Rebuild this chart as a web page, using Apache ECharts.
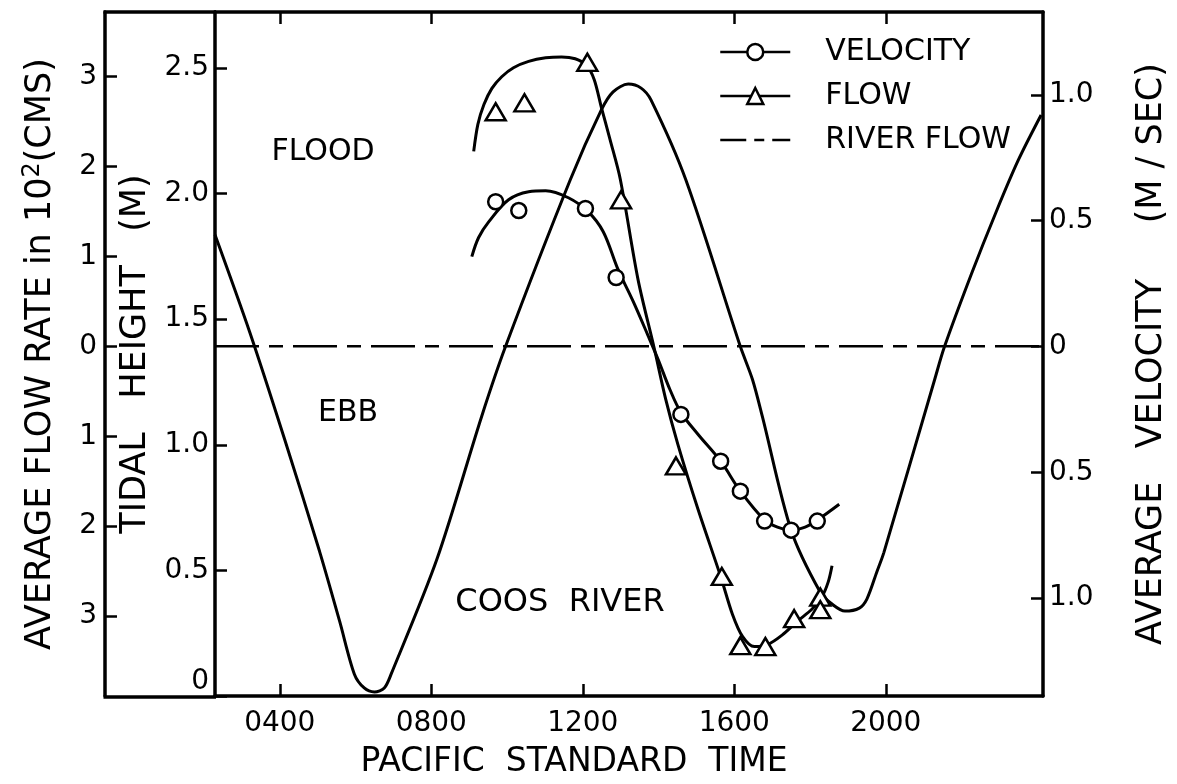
<!DOCTYPE html>
<html>
<head>
<meta charset="utf-8">
<script src="https://cdn.jsdelivr.net/npm/echarts@6/dist/echarts.min.js"></script>
<style>
  html, body { margin: 0; padding: 0; background: #fff; }
  #chart { width: 1177px; height: 784px; }
</style>
</head>
<body>
<div id="chart"></div>
<script>
// ---------- Data ----------
// Time in hours (Pacific Standard Time)
const hourTicks = [4, 8, 12, 16, 20];

// Tidal height curve (m)
const tideTime   = [2.29, 3.21, 4.13, 5.05, 5.58, 5.97, 6.23, 6.50, 6.76, 6.94, 8.15, 9.33, 9.96, 11.67, 12.49, 12.80, 13.20, 13.54, 13.80, 14.72, 16.16, 16.48, 16.74, 17.50, 18.27, 18.58, 18.92, 19.30, 19.50, 19.76, 19.95, 21.29, 21.55, 22.26, 22.92, 23.50, 24.10];
const tideHeight = [1.836, 1.447, 1.021, 0.576, 0.298, 0.087, 0.032, 0.016, 0.032, 0.087, 0.545, 1.113, 1.391, 2.055, 2.333, 2.405, 2.436, 2.42, 2.373, 2.055, 1.391, 1.26, 1.113, 0.660, 0.413, 0.366, 0.338, 0.350, 0.386, 0.493, 0.572, 1.26, 1.391, 1.680, 1.930, 2.134, 2.313];

// Average velocity fitted curve (m/s, flood positive)
const velCurveTime  = [9.07, 9.25, 9.52, 10.04, 10.57, 11.02, 11.62, 12.14, 12.54, 12.93, 13.33, 13.72, 13.99, 14.30, 14.59, 15.04, 15.64, 16.16, 16.80, 17.14, 17.50, 17.87, 18.19, 18.77];
const velCurveValue = [0.357, 0.433, 0.496, 0.583, 0.615, 0.619, 0.591, 0.536, 0.456, 0.306, 0.179, 0.044, -0.052, -0.171, -0.262, -0.349, -0.456, -0.575, -0.690, -0.718, -0.730, -0.718, -0.690, -0.627];
// Average velocity observations
const velObsTime  = [9.70, 10.31, 12.07, 12.88, 14.59, 15.64, 16.16, 16.80, 17.50, 18.19];
const velObsValue = [0.575, 0.540, 0.548, 0.274, -0.270, -0.456, -0.575, -0.694, -0.730, -0.694];

// Average flow rate fitted curve (10^2 cms, flood positive)
const flowCurveTime  = [9.12, 9.23, 9.39, 9.60, 9.86, 10.17, 10.57, 11.02, 11.44, 11.80, 12.09, 12.30, 12.49, 12.72, 12.99, 13.46, 13.88, 14.19, 14.51, 15.04, 15.64, 15.95, 16.22, 16.53, 16.87, 17.27, 17.66, 18.06, 18.32, 18.48, 18.58];
const flowCurveValue = [2.17, 2.47, 2.69, 2.87, 3.00, 3.10, 3.17, 3.21, 3.22, 3.20, 3.13, 2.97, 2.66, 2.30, 1.86, 0.74, -0.01, -0.59, -1.09, -1.81, -2.56, -2.98, -3.23, -3.34, -3.32, -3.21, -3.06, -2.92, -2.78, -2.62, -2.44];
// Average flow rate observations
const flowObsTime  = [9.70, 10.46, 12.12, 13.01, 14.46, 15.67, 16.16, 16.82, 17.58, 18.27, 18.27];
const flowObsValue = [2.61, 2.71, 3.16, 1.63, -1.33, -2.56, -3.33, -3.34, -3.03, -2.79, -2.93];

// River flow reference line (10^2 cms)
const riverTime  = [2.29, 24.15];
const riverValue = [0, 0];

// Axis tick values
const tideTicks = [0, 0.5, 1.0, 1.5, 2.0, 2.5];
const flowTicks = [-3, -2, -1, 0, 1, 2, 3];
const velTicks  = [-1.0, -0.5, 0, 0.5, 1.0];

const zip = (a, b) => a.map((v, i) => [v, b[i]]);

// ---------- Styling ----------
const FONT = "'DejaVu Sans', 'Liberation Sans', sans-serif";
const INK = '#000';
const AXW = 3.5;
const RIVER_DASH = [44, 10, 14, 10];

const chart = echarts.init(document.getElementById('chart'), null, { renderer: 'canvas' });

const tickStyle = { lineStyle: { color: INK, width: 2.5 } };
const labelBase = { color: INK, fontFamily: FONT, fontSize: 28 };

const option = {
  animation: false,
  backgroundColor: '#fff',
  grid: { left: 215, right: 130, top: 12, bottom: 87, containLabel: false },
  legend: {
    orient: 'vertical',
    left: 714,
    top: 32,
    itemWidth: 70,
    itemHeight: 20,
    itemGap: 14,
    selectedMode: false,
    textStyle: { color: INK, fontFamily: FONT, fontSize: 30, lineHeight: 30, padding: [0, 0, 0, 30] },
    data: [
      { name: 'VELOCITY', itemStyle: { color: '#fff', borderColor: INK, borderWidth: 2.5 }, lineStyle: { color: INK, width: 2.5, type: 'solid' } },
      { name: 'FLOW', itemStyle: { color: '#fff', borderColor: INK, borderWidth: 2.5 }, lineStyle: { color: INK, width: 2.5, type: 'solid' } },
      { name: 'RIVER FLOW', itemStyle: { color: 'rgba(0,0,0,0)', borderColor: 'rgba(0,0,0,0)', borderWidth: 0, opacity: 0 }, lineStyle: { color: INK, width: 2.5, type: [26, 8, 10, 8] } }
    ]
  },
  xAxis: [
    {
      type: 'value', min: 2.29, max: 24.15, position: 'bottom',
      axisLine: { onZero: false, lineStyle: { color: INK, width: AXW } },
      axisTick: Object.assign({ inside: true, length: 12, customValues: hourTicks }, tickStyle),
      axisLabel: Object.assign({ customValues: hourTicks, margin: 14,
        formatter: v => (v < 10 ? '0' : '') + (v * 100).toFixed(0) }, labelBase),
      splitLine: { show: false },
      name: 'PACIFIC  STANDARD  TIME', nameLocation: 'middle', nameGap: 50,
      nameTextStyle: { color: INK, fontFamily: FONT, fontSize: 33, padding: [0, 110, 0, 0] }
    },
    {
      type: 'value', min: 2.29, max: 24.15, position: 'top',
      axisLine: { onZero: false, lineStyle: { color: INK, width: AXW } },
      axisTick: Object.assign({ inside: true, length: 12, customValues: hourTicks }, tickStyle),
      axisLabel: { show: false, customValues: hourTicks },
      splitLine: { show: false }
    }
  ],
  yAxis: [
    {
      type: 'value', min: 0, max: 2.723, position: 'left', offset: 0,
      axisLine: { show: true, onZero: false, lineStyle: { color: INK, width: AXW } },
      axisTick: Object.assign({ show: true, inside: true, length: 12, customValues: tideTicks }, tickStyle),
      axisLabel: Object.assign({ customValues: tideTicks, margin: 6, verticalAlignMinLabel: 'bottom',
        formatter: v => v === 0 ? '0' : v.toFixed(1) }, labelBase),
      splitLine: { show: false },
      name: 'TIDAL   HEIGHT   (M)', nameLocation: 'middle', nameRotate: 90, nameGap: 37,
      nameTextStyle: { color: INK, fontFamily: FONT, fontSize: 35 }
    },
    {
      type: 'value', min: -3.89, max: 3.72, position: 'left', offset: 110,
      axisLine: { show: true, onZero: false, lineStyle: { color: INK, width: AXW } },
      axisTick: Object.assign({ show: true, inside: true, length: 12, customValues: flowTicks }, tickStyle),
      axisLabel: Object.assign({ customValues: flowTicks, margin: 8,
        formatter: v => String(Math.abs(v)) }, labelBase),
      splitLine: { show: false },
      name: '{a|AVERAGE FLOW RATE in 10}{s|2}{a|(CMS)}', nameLocation: 'middle', nameRotate: 90, nameGap: 44,
      nameTextStyle: { color: INK, fontFamily: FONT, fontSize: 35,
        rich: {
          a: { color: INK, fontFamily: FONT, fontSize: 35, lineHeight: 40 },
          s: { color: INK, fontFamily: FONT, fontSize: 24, lineHeight: 40, padding: [0, 0, 16, 0] }
        } }
    },
    {
      type: 'value', min: -1.389, max: 1.329, position: 'right', offset: 0,
      axisLine: { show: true, onZero: false, lineStyle: { color: INK, width: AXW } },
      axisTick: Object.assign({ show: true, inside: true, length: 12, customValues: velTicks }, tickStyle),
      axisLabel: Object.assign({ customValues: velTicks, margin: 6,
        formatter: v => v === 0 ? '0' : Math.abs(v).toFixed(1) }, labelBase),
      splitLine: { show: false },
      name: 'AVERAGE   VELOCITY     (M / SEC)', nameLocation: 'middle', nameRotate: 90, nameGap: 91,
      nameTextStyle: { color: INK, fontFamily: FONT, fontSize: 35 }
    }
  ],
  series: [
    {
      name: 'TIDAL HEIGHT', type: 'line', xAxisIndex: 0, yAxisIndex: 0,
      data: zip(tideTime, tideHeight), smooth: 0.3, symbol: 'none',
      lineStyle: { color: INK, width: 3 }, z: 3
    },
    {
      name: 'RIVER FLOW', type: 'line', xAxisIndex: 0, yAxisIndex: 1,
      data: zip(riverTime, riverValue), symbol: 'none',
      lineStyle: { color: INK, width: 2.5, type: RIVER_DASH }, z: 2
    },
    {
      name: 'VELOCITY', type: 'line', xAxisIndex: 0, yAxisIndex: 2,
      data: zip(velCurveTime, velCurveValue), smooth: 0.35, symbol: 'circle', showSymbol: false,
      itemStyle: { color: '#fff', borderColor: INK, borderWidth: 2.5 },
      lineStyle: { color: INK, width: 3 }, z: 3
    },
    {
      name: 'FLOW', type: 'line', xAxisIndex: 0, yAxisIndex: 1,
      data: zip(flowCurveTime, flowCurveValue), smooth: 0.3, symbol: 'triangle', showSymbol: false,
      itemStyle: { color: '#fff', borderColor: INK, borderWidth: 2.5 },
      lineStyle: { color: INK, width: 3 }, z: 3
    },
    {
      name: 'Velocity observations', type: 'scatter', xAxisIndex: 0, yAxisIndex: 2,
      data: zip(velObsTime, velObsValue), symbol: 'circle', symbolSize: 15,
      itemStyle: { color: '#fff', borderColor: INK, borderWidth: 2.5, opacity: 1 }, z: 5
    },
    {
      name: 'Flow observations', type: 'scatter', xAxisIndex: 0, yAxisIndex: 1,
      data: zip(flowObsTime, flowObsValue), symbol: 'triangle', symbolSize: [20, 17],
      itemStyle: { color: '#fff', borderColor: INK, borderWidth: 2.5, opacity: 1 }, z: 5
    }
  ],
  graphic: [
    { type: 'line', shape: { x1: 103.5, y1: 12, x2: 216, y2: 12 }, style: { stroke: INK, lineWidth: AXW }, z: 10 },
    { type: 'line', shape: { x1: 103.5, y1: 697, x2: 216, y2: 697 }, style: { stroke: INK, lineWidth: AXW }, z: 10 },
    { type: 'text', x: 323, y: 152, style: { text: 'FLOOD', fill: INK, fontFamily: FONT, fontSize: 30, align: 'center', verticalAlign: 'middle' } },
    { type: 'text', x: 348, y: 413, style: { text: 'EBB', fill: INK, fontFamily: FONT, fontSize: 30, align: 'center', verticalAlign: 'middle' } },
    { type: 'text', x: 560, y: 603, style: { text: 'COOS  RIVER', fill: INK, fontFamily: FONT, fontSize: 32, align: 'center', verticalAlign: 'middle' } }
  ]
};

chart.setOption(option);
</script>
</body>
</html>
